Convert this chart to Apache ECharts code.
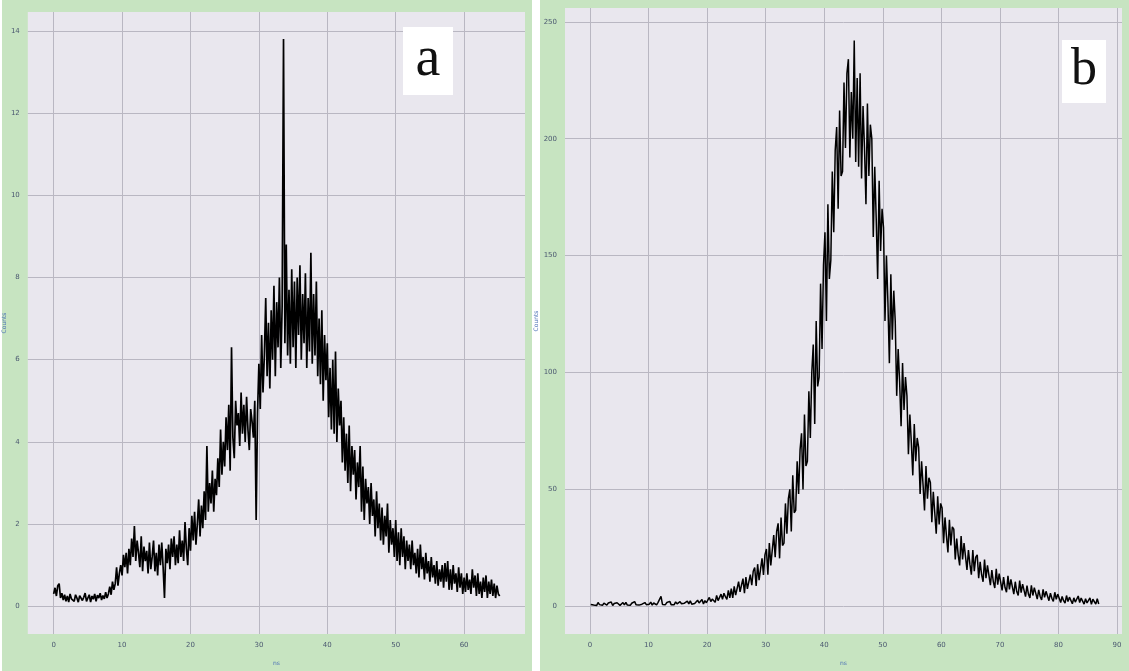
<!DOCTYPE html>
<html>
<head>
<meta charset="utf-8">
<script src="https://cdn.jsdelivr.net/npm/echarts@6/dist/echarts.min.js"></script>
<style>
  body { margin: 0; background: #fff; }
  #chart { width: 1129px; height: 671px; }
</style>
</head>
<body>
<div id="chart"></div>
<script>
// panel a: bins of 0.2 starting at 0 (5 values per unit)
var binStartA = 0;
var binWidthA = 0.2;
var countsA = [
  0.3,0.45,0.25,0.5,0.55, 0.2,0.32,0.15,0.28,0.12, 0.25,0.1,0.3,0.18,0.22, 0.12,0.28,0.2,0.1,0.26, 0.3,0.14,0.22,0.32,0.12,
  0.2,0.28,0.1,0.25,0.17, 0.3,0.12,0.27,0.2,0.32, 0.15,0.26,0.18,0.34,0.2, 0.3,0.48,0.28,0.6,0.4, 0.55,0.95,0.5,0.8,1.0,
  0.75,1.25,0.95,1.3,0.8, 1.4,1.0,1.65,1.2,1.95, 1.1,1.6,1.3,0.95,1.7, 0.85,1.45,1.1,1.35,0.8, 1.55,0.9,1.2,1.6,0.85,
  1.3,0.75,1.5,1.0,1.55, 0.95,0.2,1.4,1.05,1.5, 0.9,1.65,1.2,1.7,1.0, 1.5,1.05,1.85,1.2,1.6, 1.1,2.05,1.4,1.0,1.9,
  1.35,2.2,1.6,2.3,1.5, 2.0,2.6,1.7,2.45,1.9, 2.8,2.1,3.9,2.3,3.0, 2.5,3.3,2.3,3.1,2.7, 3.6,2.9,4.3,3.2,4.0,
  3.4,4.6,3.8,4.9,3.3, 6.3,4.1,3.6,5.0,4.4, 4.7,3.9,5.2,4.2,4.9, 4.0,5.1,4.3,3.8,4.8, 4.5,4.1,5.0,2.1,4.7,
  5.9,4.8,6.6,5.2,6.1, 7.5,5.6,6.9,5.3,7.2, 6.0,7.8,5.6,7.4,6.3, 8.0,5.8,7.3,13.8,6.4, 8.8,6.1,7.7,5.9,8.2,
  6.3,7.9,5.8,8.0,6.6, 8.3,6.0,7.6,6.4,8.1, 5.8,7.5,6.2,8.6,5.9, 7.6,6.1,7.9,5.6,7.0, 5.4,7.2,5.0,6.6,5.5,
  6.4,4.6,5.8,4.3,6.0, 4.2,6.2,4.0,5.3,4.4, 5.0,3.5,4.6,3.3,4.2, 3.0,4.4,2.8,3.9,3.2, 3.8,2.6,3.5,2.9,3.9,
  2.3,3.4,2.1,3.1,2.5, 2.9,2.0,3.0,2.2,2.6, 1.7,2.8,1.9,2.5,1.6, 2.4,1.5,2.2,1.7,2.5, 1.3,2.1,1.5,1.9,1.2,
  2.1,1.1,1.8,1.0,1.9, 1.2,1.7,0.9,1.6,1.1, 1.5,0.9,1.6,1.0,1.3, 0.8,1.4,0.7,1.5,0.9, 1.2,0.65,1.3,0.8,1.1,
  0.6,1.2,0.7,1.0,0.55, 1.1,0.5,0.9,0.6,1.0, 0.45,1.05,0.6,1.1,0.4, 0.9,0.4,1.0,0.55,0.8, 0.35,0.95,0.45,0.8,0.3,
  0.7,0.35,0.8,0.4,0.65, 0.3,0.9,0.45,0.75,0.25, 0.8,0.3,0.6,0.2,0.7, 0.35,0.75,0.2,0.6,0.3, 0.65,0.25,0.55,0.2,0.5,
  0.3,0.25
];
var xTicksA = [0, 10, 20, 30, 40, 50, 60];
var yTicksA = [0, 2, 4, 6, 8, 10, 12, 14];

// panel b: bins of 0.25 starting at 0.125 (4 values per unit)
var binStartB = 0.125;
var binWidthB = 0.25;
var countsB = [
  0.8,1.5,0.5,1.2, 0.3,1.6,0.7,1.1, 0.4,1.3,0.9,0.5, 1.4,0.6,1.8,0.3, 1.2,0.5,1.5,0.8,
  0.4,1.0,1.6,0.6, 1.7,0.5,1.1,0.4, 1.3,0.8,2.0,0.6, 1.4,0.5,1.2,0.9, 0.6,1.6,0.7,1.3,
  0.9,1.8,0.5,1.4, 1.0,0.6,1.7,1.1, 4.2,0.8,1.5,0.7, 1.6,0.9,2.1,0.6, 1.2,0.7,1.9,1.0,
  0.8,2.0,1.1,1.6, 1.3,0.7,2.2,1.0, 2.3,0.9,1.6,1.2, 0.8,2.6,1.4,2.2, 2.9,1.0,2.4,1.5,
  1.3,3.8,2.0,3.1, 3.6,1.7,4.6,2.4, 2.3,5.2,3.0,5.6, 4.1,2.9,6.8,3.6, 7.5,3.6,8.5,4.8,
  5.0,10.5,6.2,9.1, 11.8,5.6,12.5,7.4, 7.0,13.5,9.0,15.0, 16.6,8.7,18.0,11.2, 11.0,20.5,13.4,22.0,
  24.5,13.5,27.0,17.5, 17.0,30.5,21.0,32.0, 35.5,20.5,38.0,26.0, 27.0,44.0,31.0,46.0, 50.0,32.0,56.0,40.0,
  41.0,62.0,48.0,67.0, 74.0,50.0,82.0,60.0, 62.0,92.0,72.0,100.0, 112.0,78.0,122.0,94.0, 98.0,138.0,110.0,146.0,
  160.0,122.0,172.0,140.0, 148.0,186.0,160.0,195.0, 205.0,170.0,212.0,184.0, 186.0,224.0,196.0,228.0, 234.0,192.0,220.0,200.0,
  242.0,190.0,226.0,188.0, 228.0,183.0,214.0,196.0, 172.0,215.0,184.0,206.0, 200.0,158.0,188.0,166.0, 140.0,182.0,152.0,170.0,
  162.0,122.0,150.0,130.0, 104.0,142.0,114.0,135.0, 122.0,90.0,110.0,96.0, 77.0,104.0,84.0,98.0, 90.0,65.0,82.0,70.0,
  56.0,78.0,62.0,72.0, 68.0,48.0,62.0,52.0, 41.0,60.0,46.0,55.0, 53.0,36.0,49.0,40.0, 31.0,47.0,35.0,44.0,
  42.0,27.0,38.0,30.0, 23.0,37.0,26.0,34.0, 33.0,20.0,29.0,22.0, 17.5,30.0,20.0,27.0, 27.0,15.5,24.0,18.0,
  13.5,24.0,15.0,21.0, 22.0,12.0,19.0,13.5, 10.5,20.0,12.0,17.5, 18.0,9.0,15.5,10.5, 7.8,16.0,9.2,14.0,
  14.5,6.8,12.5,8.0, 6.0,13.0,7.2,11.5, 12.0,5.2,10.5,6.3, 4.6,11.0,5.8,9.5, 10.0,4.1,8.8,5.2,
  3.6,9.0,4.6,8.0, 8.0,3.1,7.0,4.2, 2.7,7.2,3.8,6.4, 6.5,2.4,5.6,3.4, 2.1,6.0,3.0,5.2,
  4.8,1.6,4.2,2.4, 1.3,4.6,2.0,3.9, 4.2,1.1,3.6,1.8, 1.0,4.4,1.6,3.5, 3.8,0.9,3.2,1.4,
  1.2,3.6,0.8,3.0, 2.6,0.9,3.2,1.0
];
var xTicksB = [0, 10, 20, 30, 40, 50, 60, 70, 80, 90];
var yTicksB = [0, 50, 100, 150, 200, 250];

function toPairs(start, width, counts) {
  return counts.map(function (c, i) { return [start + i * width, c]; });
}

var green = '#c7e4c1';
var plotBg = '#e9e7ee';
var labelColor = '#4b5870';
var gridColor = '#b9b7c2';

function valueAxis(gridIndex, min, max, ticks, extra) {
  var ax = {
    type: 'value',
    gridIndex: gridIndex,
    min: min,
    max: max,
    axisLine: { show: false },
    axisTick: { show: false, customValues: ticks },
    axisLabel: { customValues: ticks, fontSize: 7, color: labelColor, fontFamily: 'DejaVu Sans' },
    splitLine: { show: true, lineStyle: { color: gridColor, width: 1 } },
    nameTextStyle: { fontSize: 6, color: '#4a6fb5', fontFamily: 'DejaVu Sans' }
  };
  for (var k in extra) ax[k] = extra[k];
  return ax;
}

var myChart = echarts.init(document.getElementById('chart'));
var option = {
  backgroundColor: '#ffffff',
  animation: false,
  graphic: [
    { type: 'rect', z: -10, shape: { x: 2, y: 0, width: 530, height: 671 }, style: { fill: green } },
    { type: 'rect', z: -10, shape: { x: 540, y: 0, width: 589, height: 671 }, style: { fill: green } },
    { type: 'rect', z: 10, shape: { x: 403, y: 27, width: 50, height: 68 }, style: { fill: '#ffffff' } },
    { type: 'text', z: 11, x: 428, y: 60, style: { text: 'a', font: '56px "Liberation Serif"', fill: '#111', align: 'center', verticalAlign: 'middle' } },
    { type: 'rect', z: 10, shape: { x: 1062, y: 40, width: 44, height: 63 }, style: { fill: '#ffffff' } },
    { type: 'text', z: 11, x: 1084, y: 70, style: { text: 'b', font: '52px "Liberation Serif"', fill: '#111', align: 'center', verticalAlign: 'middle' } }
  ],
  grid: [
    { left: 25, top: 12, width: 500, height: 628, show: true, backgroundColor: plotBg, borderWidth: 0 },
    { left: 565, top: 8, width: 557, height: 632, show: true, backgroundColor: plotBg, borderWidth: 0 }
  ],
  xAxis: [
    valueAxis(0, -3.78, 68.9, xTicksA, { name: 'ns', nameLocation: 'middle', nameGap: 26 }),
    valueAxis(1, -4.27, 90.85, xTicksB, { name: 'ns', nameLocation: 'middle', nameGap: 26 })
  ],
  yAxis: [
    valueAxis(0, -0.675, 14.46, yTicksA, { name: 'Counts', nameLocation: 'middle', nameGap: 12, nameRotate: 90 }),
    valueAxis(1, -11.86, 255.9, yTicksB, { name: 'Counts', nameLocation: 'middle', nameGap: 16, nameRotate: 90 })
  ],
  series: [
    {
      type: 'line',
      xAxisIndex: 0,
      yAxisIndex: 0,
      data: toPairs(binStartA, binWidthA, countsA),
      showSymbol: false,
      lineStyle: { color: '#000000', width: 1.7 }
    },
    {
      type: 'line',
      xAxisIndex: 1,
      yAxisIndex: 1,
      data: toPairs(binStartB, binWidthB, countsB),
      showSymbol: false,
      lineStyle: { color: '#000000', width: 1.5 }
    }
  ]
};
myChart.setOption(option);
</script>
</body>
</html>
